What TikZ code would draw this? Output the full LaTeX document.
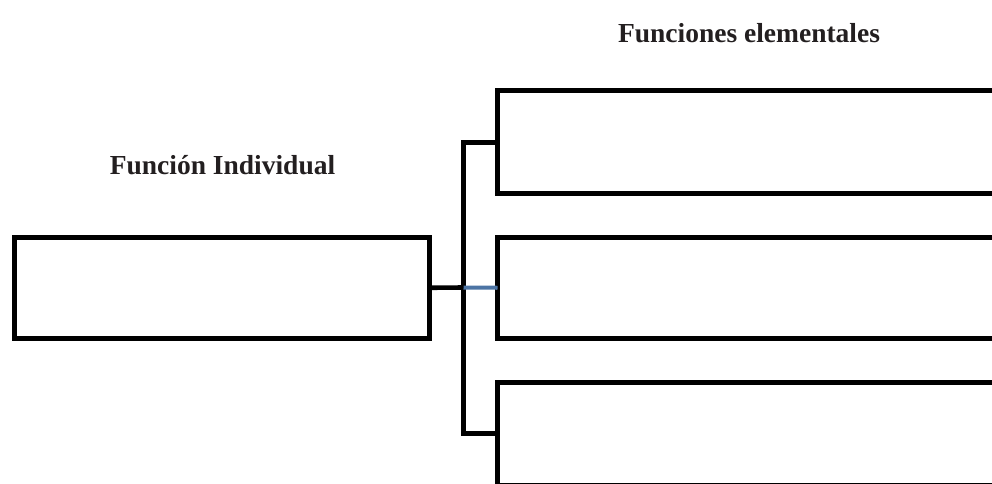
\documentclass[tikz,border=0pt]{standalone}
\usepackage{fontspec}
\setmainfont{Liberation Serif}
\definecolor{linkblue}{RGB}{76,116,164}
\definecolor{titlegray}{RGB}{35,31,32}
\begin{document}
\begin{tikzpicture}[x=1pt,y=-1pt,
  box/.style={draw=black, line width=5pt, rectangle, inner sep=0pt, outer sep=0pt, line join=miter},
  link/.style={draw=black, line width=4.6pt, line join=miter},
  title/.style={font=\fontsize{27.5}{32}\selectfont\bfseries, text=titlegray, inner sep=0pt}]
  \useasboundingbox (0,0) rectangle (992,483);
  \clip (0,0) rectangle (992,483);

  % titles
  \node[title] (t1) at (222.5,165) {Función Individual};
  \node[title] (t2) at (749,33) {Funciones elementales};

  % individual function box
  \node[box, minimum width=414.5pt, minimum height=100.5pt] (indiv) at (222,287.75) {};

  % elementary function boxes (run past the right and bottom edges)
  \node[box, minimum width=533pt, minimum height=103pt] (e1) at (764,142.3) {};
  \node[box, minimum width=533pt, minimum height=100.5pt] (e2) at (764,287.75) {};
  \node[box, minimum width=533pt, minimum height=103pt] (e3) at (764,433.5) {};

  % branching connector
  \coordinate (bus) at (463.5,287.5);
  \draw[link] (e1.west) -| (bus) |- (e3.west);
  \draw[link] (indiv.east) -- (bus);
  \draw[link, draw=linkblue, line width=4pt] (bus) -- (e2.west);
\end{tikzpicture}
\end{document}
